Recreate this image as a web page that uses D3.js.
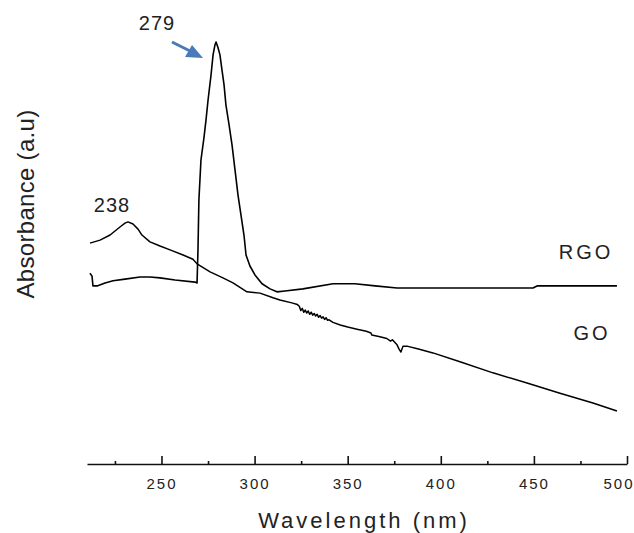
<!DOCTYPE html>
<html>
<head>
<meta charset="utf-8">
<script src="https://cdn.jsdelivr.net/npm/d3@7"></script>
<style>
  html, body { margin: 0; padding: 0; background: #fff; }
  svg { display: block; }
  text { font-family: "Liberation Sans", Arial, sans-serif; fill: #222; }
</style>
</head>
<body>
<svg id="chart" width="634" height="533"></svg>
<script>
// ---- data (wavelength nm, absorbance a.u.) ----
const goWavelength = [211.6, 217.0, 222.4, 227.7, 230.4, 232.0, 234.7, 237.4, 239.5, 243.8, 249.2, 254.6, 261.6, 266.9, 269.1, 276.1, 283.0, 288.4, 295.9, 302.9, 309.9, 313.6, 320.0, 323.0, 324.0, 324.8, 325.6, 326.4, 327.2, 328.0, 328.8, 329.6, 330.4, 331.2, 332.0, 332.8, 333.6, 334.4, 335.2, 336.0, 336.8, 337.6, 338.4, 339.2, 340.0, 342.1, 346.0, 350.0, 355.0, 360.0, 362.5, 363.0, 367.3, 371.0, 373.0, 374.0, 376.5, 377.6, 378.6, 379.7, 381.8, 388.0, 395.8, 410.3, 428.0, 446.3, 464.0, 481.7, 494.6];
const goValues     = [0.521, 0.528, 0.540, 0.559, 0.568, 0.571, 0.566, 0.554, 0.540, 0.524, 0.514, 0.505, 0.493, 0.483, 0.472, 0.453, 0.439, 0.427, 0.406, 0.403, 0.392, 0.387, 0.380, 0.376, 0.372, 0.362, 0.367, 0.358, 0.363, 0.356, 0.361, 0.353, 0.358, 0.351, 0.355, 0.349, 0.353, 0.346, 0.350, 0.344, 0.347, 0.341, 0.345, 0.339, 0.340, 0.334, 0.328, 0.323, 0.318, 0.313, 0.309, 0.304, 0.300, 0.296, 0.290, 0.293, 0.281, 0.271, 0.264, 0.278, 0.278, 0.271, 0.262, 0.241, 0.215, 0.191, 0.167, 0.144, 0.125];

const rgoWavelength = [211.6, 212.7, 213.2, 215.4, 219.7, 224.0, 230.4, 238.5, 243.8, 249.2, 257.3, 268.0, 269.1, 269.6, 270.1, 271.2, 272.8, 273.9, 275.0, 276.6, 277.7, 278.7, 279.3, 280.3, 281.4, 282.5, 283.6, 284.6, 286.3, 287.9, 289.5, 291.1, 292.7, 294.3, 295.4, 297.5, 300.2, 304.0, 308.3, 312.0, 316.3, 326.0, 342.1, 353.9, 364.7, 376.5, 449.5, 451.7, 494.6];
const rgoValues     = [0.450, 0.443, 0.420, 0.420, 0.427, 0.432, 0.436, 0.441, 0.441, 0.439, 0.434, 0.429, 0.427, 0.505, 0.623, 0.717, 0.769, 0.811, 0.858, 0.917, 0.965, 0.988, 0.995, 0.983, 0.965, 0.929, 0.894, 0.847, 0.800, 0.752, 0.693, 0.634, 0.587, 0.540, 0.493, 0.467, 0.446, 0.425, 0.413, 0.406, 0.408, 0.413, 0.425, 0.425, 0.420, 0.415, 0.415, 0.420, 0.420];

const majorTicks = [250, 300, 350, 400, 450, 500];
const minorTicks = [225, 275, 325, 375, 425, 475];

const seriesLabels = ["RGO", "GO"];
const peakLabels = ["279", "238"];
const xTitle = "Wavelength (nm)";
const yTitle = "Absorbance (a.u)";

// ---- scales ----
const svg = d3.select("#chart");
const x = d3.scaleLinear().domain([210, 500]).range([87, 627]);
const y = d3.scaleLinear().domain([0, 1]).range([464, 40]);

// ---- axis ----
const axisG = svg.append("g").attr("transform", "translate(0,464)");
axisG.call(d3.axisBottom(x).tickValues(majorTicks).tickSize(-8).tickSizeOuter(0).tickPadding(14).tickFormat(d3.format("d")));
axisG.select(".domain").attr("stroke", "#111").attr("stroke-width", 1.6);
axisG.selectAll(".tick line").attr("stroke", "#111").attr("stroke-width", 1.6);
axisG.selectAll(".tick text")
  .style("font-family", '"Liberation Sans", Arial, sans-serif')
  .style("font-size", "15px").style("letter-spacing", "2px").attr("fill", "#333");
// keep the last label inside the frame, as in the reference
axisG.selectAll(".tick text").filter(d => d === 500)
  .attr("text-anchor", "end").attr("x", 7);

const minorG = svg.append("g").attr("transform", "translate(0,464)");
minorG.call(d3.axisBottom(x).tickValues(minorTicks).tickSize(-3).tickSizeOuter(0).tickFormat(""));
minorG.select(".domain").remove();
minorG.selectAll(".tick line").attr("stroke", "#111").attr("stroke-width", 1.6);

// ---- lines ----
const line = d3.line().x(d => x(d[0])).y(d => y(d[1]));
const goData = goWavelength.map((w, i) => [w, goValues[i]]);
const rgoData = rgoWavelength.map((w, i) => [w, rgoValues[i]]);

svg.append("path").datum(goData).attr("d", line)
  .attr("fill", "none").attr("stroke", "#000").attr("stroke-width", 1.5).attr("stroke-linejoin", "round");
svg.append("path").datum(rgoData).attr("d", line)
  .attr("fill", "none").attr("stroke", "#000").attr("stroke-width", 1.6).attr("stroke-linejoin", "round");

// ---- titles ----
svg.append("text").attr("x", 364).attr("y", 528).attr("text-anchor", "middle")
  .style("font-size", "22px").style("letter-spacing", "3px").text(xTitle);
svg.append("text").attr("transform", "translate(34,204) rotate(-90)").attr("text-anchor", "middle")
  .style("font-size", "24px").style("letter-spacing", "0.3px").text(yTitle);

// ---- labels ----
svg.append("text").attr("x", 586).attr("y", 259).attr("text-anchor", "middle")
  .style("font-size", "20px").style("letter-spacing", "3px").text(seriesLabels[0]);
svg.append("text").attr("x", 592).attr("y", 340).attr("text-anchor", "middle")
  .style("font-size", "20px").style("letter-spacing", "3px").text(seriesLabels[1]);

svg.append("text").attr("x", 157).attr("y", 30).attr("text-anchor", "middle")
  .style("font-size", "20px").style("letter-spacing", "1px").text(peakLabels[0]);
svg.append("text").attr("x", 112).attr("y", 212).attr("text-anchor", "middle")
  .style("font-size", "20px").style("letter-spacing", "1px").text(peakLabels[1]);

// ---- arrow pointing to 279 peak ----
const arrowColor = "#4a7ab8";
svg.append("line").attr("x1", 172).attr("y1", 42).attr("x2", 192).attr("y2", 52)
  .attr("stroke", arrowColor).attr("stroke-width", 3);
svg.append("path").attr("d", "M203,58 L185,57 L192,45 Z").attr("fill", arrowColor);
</script>
</body>
</html>
